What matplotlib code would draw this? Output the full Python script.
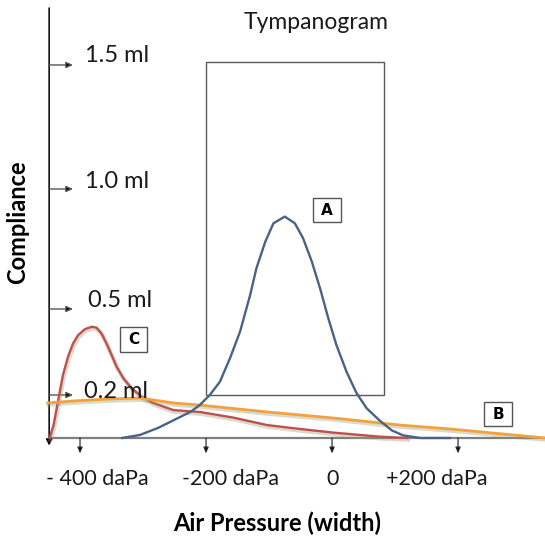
import numpy as np
import matplotlib
matplotlib.use("Agg")
import matplotlib.pyplot as plt
from matplotlib.patches import Rectangle
import matplotlib.patheffects as pe

# ---------------- data ----------------
# pressure in daPa, compliance in ml
red_x = [-448, -442, -437, -432, -427, -419, -411, -403, -392, -381, -374, -366,
         -358, -350, -342, -331, -318, -302, -284, -252, -225, -210, -157, -103,
         -51, 2, 76, 119]
red_y = [0.0, 0.060, 0.138, 0.212, 0.270, 0.334, 0.380, 0.409, 0.430, 0.438, 0.435,
         0.415, 0.380, 0.340, 0.299, 0.258, 0.223, 0.192, 0.163, 0.130, 0.124,
         0.121, 0.095, 0.060, 0.042, 0.025, 0.006, 0.0]

orange_x = [-451, -411, -357, -305, -252, -210, -103, 2, 108, 187, 338]
orange_y = [0.163, 0.172, 0.181, 0.186, 0.163, 0.153, 0.121, 0.093, 0.060, 0.042, 0.0]

blue_x = [-333, -305, -276, -225, -210, -194, -178, -162, -146, -130, -120, -106,
          -93, -75, -59, -46, -32, -19, -6, 7, 23, 39, 55, 76, 95, 113, 140, 187]
blue_y = [0.0, 0.014, 0.047, 0.121, 0.153, 0.200, 0.246, 0.328, 0.421, 0.558, 0.670,
          0.780, 0.857, 0.885, 0.857, 0.795, 0.697, 0.586, 0.468, 0.374, 0.281,
          0.206, 0.138, 0.080, 0.035, 0.012, 0.0, 0.0]

y_ticks = [1.5, 1.0, 0.5, 0.2]
y_tick_labels = ["1.5 ml", "1.0 ml", "0.5 ml", "0.2 ml"]
x_ticks = [-400, -200, 0, 200]
x_tick_labels = ["- 400 daPa", "-200 daPa", "0", "+200 daPa"]

box_x = (-200, 82)
box_y = (0.2, 1.51)

# ---------------- figure ----------------
W, H = 545, 539
fig = plt.figure(figsize=(W / 100, H / 100), dpi=100)
ax = fig.add_axes([0, 0, 1, 1])
ax.axis("off")

ml_knots = [-1.0, 0.0, 0.2, 0.5, 1.0, 1.5, 2.5]
h_knots = [-215, 0, 43, 129, 249, 373, 621]
ax.set_yscale("function", functions=(lambda y: np.interp(y, ml_knots, h_knots),
                                     lambda h: np.interp(h, h_knots, ml_knots)))
ax.set_xlim(-527, 338)
ax.set_ylim(-0.4698, 1.762)

FONT = "Lato"
TXT = "#1a1a1a"

def fx(px):
    return px / W

def fy(py):
    return 1 - py / H

# axes lines
ax.annotate("", xy=(-449, -0.035), xytext=(-449, 1.73),
            arrowprops=dict(arrowstyle="-|>,head_width=0.18,head_length=0.35",
                            color="black", lw=1.1, shrinkA=0, shrinkB=0))
ax.plot([-449, 338], [0, 0], color="#7f7f7f", lw=1.6, solid_capstyle="butt", zorder=1)

# y tick arrows
for v in y_ticks:
    ax.annotate("", xy=(-411, v), xytext=(-449, v),
                arrowprops=dict(arrowstyle="-|>,head_width=0.18,head_length=0.4",
                                fc="black", ec="#555555", lw=1.0, shrinkA=0, shrinkB=0))
# x tick arrows
for v in x_ticks:
    ax.annotate("", xy=(v, -0.072), xytext=(v, 0),
                arrowprops=dict(arrowstyle="-|>,head_width=0.15,head_length=0.35",
                                fc="black", ec="#333333", lw=0.9, shrinkA=0, shrinkB=0))

# big box
ax.add_patch(Rectangle((box_x[0], box_y[0]), box_x[1] - box_x[0], box_y[1] - box_y[0],
                       fill=False, ec="#5a5a5a", lw=1.0, zorder=2))

shadow = [pe.SimpleLineShadow(offset=(0.6, -1.2), shadow_color="#9a9a70", alpha=0.35, linewidth=3.2),
          pe.Normal()]
ax.plot(red_x, red_y, color="#c0504d", lw=1.7, zorder=3, path_effects=shadow,
        solid_joinstyle="round")
ax.plot(orange_x, orange_y, color="#f2a23c", lw=2.0, zorder=4, path_effects=shadow,
        solid_joinstyle="round")
ax.plot(blue_x, blue_y, color="#4a6283", lw=1.7, zorder=5, solid_joinstyle="round")

# tick labels
yl_left = [85, 85, 88, 84]
yl_base = [62, 188, 307, 398]
for t, x0, b in zip(y_tick_labels, yl_left, yl_base):
    fig.text(fx(x0), fy(b), t, ha="left", va="baseline", fontsize=17,
             family=FONT, color=TXT)

xl_center = [97, 231, 333, 437]
for t, c in zip(x_tick_labels, xl_center):
    fig.text(fx(c), fy(485), t, ha="center", va="baseline", fontsize=15.5,
             family=FONT, color=TXT)

fig.text(fx(316), fy(29), "Tympanogram", ha="center", va="baseline", fontsize=16.5,
         family=FONT, color=TXT)
fig.text(fx(277), fy(531), "Air Pressure (width)", ha="center", va="baseline",
         fontsize=17, family=FONT, fontweight="bold", color="black")
fig.text(fx(18), fy(222), "Compliance", ha="center", va="center", rotation=90,
         fontsize=17, family=FONT, fontweight="bold", color="black")

# letter boxes (pixel boxes: x0, y0, x1, y1)
letters = ["A", "C", "B"]
letter_boxes = [(313, 198, 341, 222), (120, 327, 147, 352), (484, 402, 512, 426)]
for L, (x0, y0, x1, y1) in zip(letters, letter_boxes):
    fig.patches.append(Rectangle((fx(x0), fy(y1)), fx(x1) - fx(x0), fy(y0) - fy(y1),
                                 transform=fig.transFigure, fill=True, fc="white",
                                 ec="#555555", lw=1.0, zorder=6))
    fig.text(fx((x0 + x1) / 2), fy((y0 + y1) / 2 + 0.5), L, ha="center", va="center",
             fontsize=11, family="DejaVu Sans", fontweight="bold", color="black",
             zorder=7)

fig.savefig("out.png", dpi=100, facecolor="white")
